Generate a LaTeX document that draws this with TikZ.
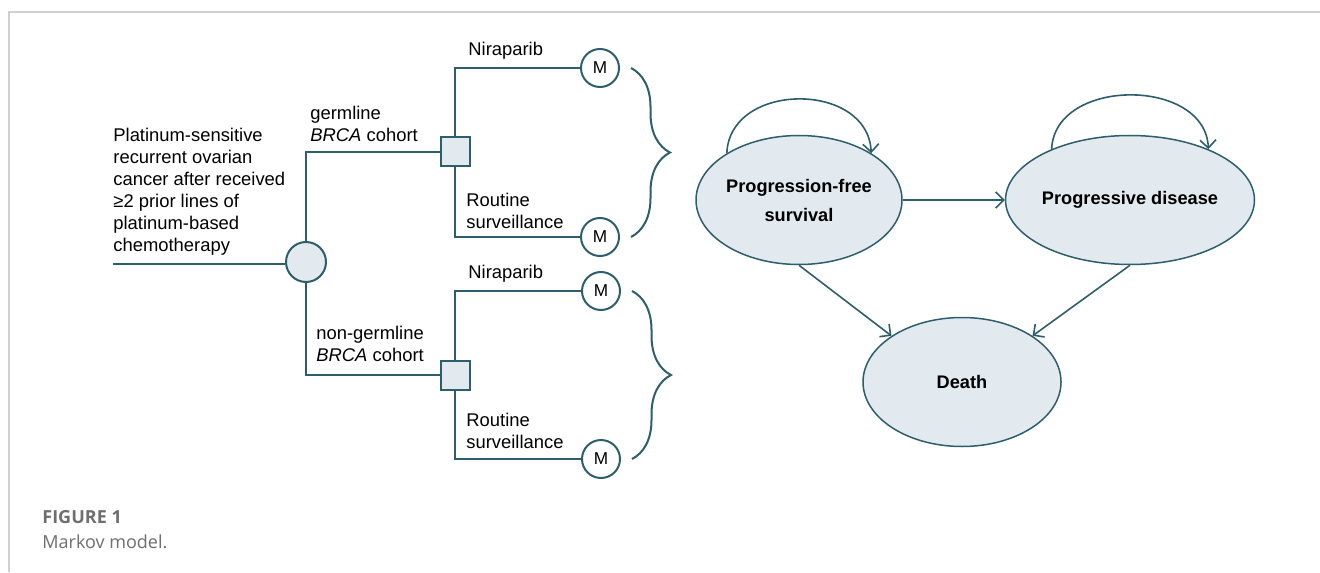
\documentclass[tikz,border=0pt]{standalone}
\usepackage{fontspec}
\setmainfont{Liberation Sans}
\newfontfamily\capfont{Open Sans}
\usetikzlibrary{shapes.geometric,arrows.meta,decorations.pathreplacing}
\definecolor{tealline}{HTML}{2D5E6B}
\definecolor{statefill}{HTML}{E3EAEF}
\definecolor{framegray}{HTML}{D0D0D0}
\definecolor{capgray}{HTML}{6E6E6E}
\begin{document}
\begin{tikzpicture}
	[x=0.5pt,y=-0.5pt,
	state/.style={ellipse,draw=tealline,fill=statefill,line width=0.75pt,minimum width=99pt,minimum height=64.5pt,inner sep=0pt,align=center,font=\bfseries\fontsize{9.1}{14.5}\selectfont},
	chance/.style={circle,draw=tealline,fill=statefill,line width=1pt,minimum size=20pt,inner sep=0pt},
	decision/.style={rectangle,draw=tealline,fill=statefill,line width=1pt,minimum size=14.5pt,inner sep=0pt},
	markov/.style={circle,draw=tealline,fill=white,line width=1pt,minimum size=19pt,inner sep=0pt,font=\fontsize{8.6}{9}\selectfont},
	lbl/.style={anchor=south west,align=left,inner xsep=0pt,inner ysep=4pt,font=\fontsize{9.2}{11}\selectfont},
	branch/.style={draw=tealline,line width=1pt},
	link/.style={draw=tealline,line width=0.8pt,->},
	>={Straight Barb[length=4pt,width=8pt]}]
	\useasboundingbox (0,0) rectangle (1320,572);
	% frame
	\draw[framegray,line width=1pt] (9,572) -- (9,12) -- (1320,12);
	% decision tree
	\coordinate (start) at (113,264);
	\node[chance,name=c0]at(306,262){};
	\node[decision,name=d1]at(455,152){};
	\node[decision,name=d2]at(455,375){};
	\node[markov,name=m1]at(600,68){M};
	\node[markov,name=m2]at(600,237){M};
	\node[markov,name=m3]at(601,291){M};
	\node[markov,name=m4]at(601,459){M};
	\draw[branch](start) --(start -| c0.west);
	\draw[branch](c0) |-(d1);
	\draw[branch](c0) |-(d2);
	\draw[branch](d1) |-(m1);
	\draw[branch](d1) |-(m2);
	\draw[branch](d2) |-(m3);
	\draw[branch](d2) |-(m4);
	\node[lbl,name=root]at(start){Platinum-sensitive\\recurrent ovarian\\cancer after received\\≥2 prior lines of\\platinum-based\\chemotherapy};
	\node[lbl,name=g1]at(310,150){germline\\\textit{BRCA} cohort};
	\node[lbl,name=g2]at(316,370){non-germline\\\textit{BRCA} cohort};
	\node[lbl,name=n1]at(468,68){Niraparib};
	\node[lbl,name=r1]at(466,237){Routine\\surveillance};
	\node[lbl,name=n2]at(468,291){Niraparib};
	\node[lbl,name=r2]at(466,457){Routine\\surveillance};
	\draw[branch,decorate,decoration={brace,amplitude=19.5pt}]([xshift=5.5pt]m1.east) --([xshift=5.5pt]m2.east);
	\draw[branch,decorate,decoration={brace,amplitude=19.5pt}]([xshift=5.5pt]m3.east) --([xshift=5.5pt]m4.east);
	% markov states
	\node[state,name=pfs]at(799,200){Progression-free\\survival};
	\node[state,name=pd]at(1130,200){Progressive disease};
	\node[state,name=death]at(962,382){Death};
	\draw[link](pfs) --(pd);
	\draw[link](pfs.south) --(death.north west);
	\draw[link](pd.south) --(death.north east);
	\draw[link](pfs.147) .. controls +(3,-72) and +(-3,-72) .. (pfs.33);
	\draw[link](pd.147) .. controls +(3,-72) and +(-3,-72) .. (pd.33);
	% caption
	\node[anchor=base west,inner sep=0pt,text=capgray,font=\capfont\bfseries\fontsize{9}{11}\selectfont,name=fig]at(42,523){FIGURE 1};
	\node[anchor=base west,inner sep=0pt,text=capgray,font=\capfont\fontsize{9}{11}\selectfont,name=cap]at(42,548){Markov model.};
\end{tikzpicture}
\end{document}
